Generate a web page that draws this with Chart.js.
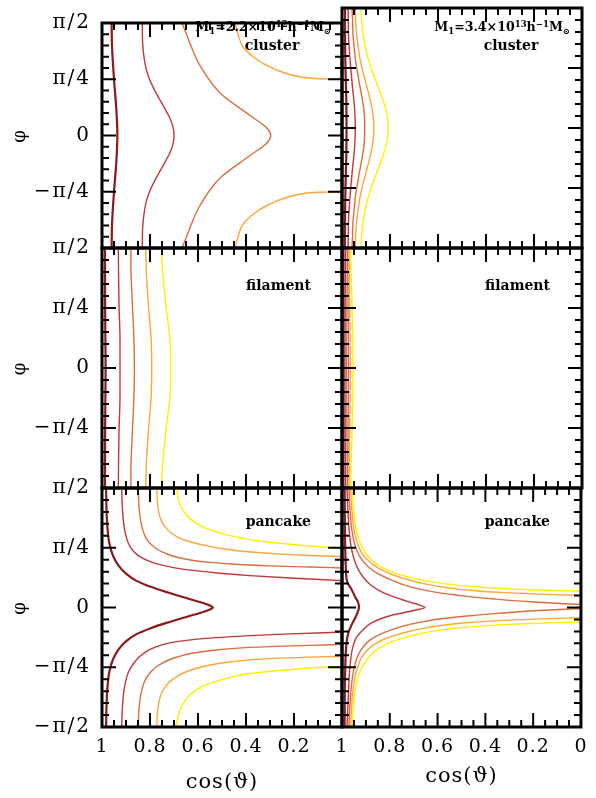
<!DOCTYPE html>
<html><head><meta charset="utf-8">
<script src="https://cdn.jsdelivr.net/npm/chart.js@4.4.1/dist/chart.umd.min.js"></script>
<style>
html,body{margin:0;padding:0;background:#fff;}
#wrap{position:relative;width:596px;height:798px;overflow:hidden;background:#fff;}
#wrap canvas{position:absolute;left:0;top:0;}
.note{position:absolute;font-family:"DejaVu Serif",serif;font-weight:bold;color:#000;white-space:nowrap;line-height:1;font-size:14px;}
.note sub,.note sup{font-size:68%;line-height:0;position:relative;vertical-align:baseline;}
.note sup{top:-0.5em;}
.note sub{top:0.3em;}
</style></head><body>
<div id="wrap">
<canvas id="c0" width="596" height="798"></canvas>
<canvas id="c1" width="596" height="798"></canvas>
<canvas id="c2" width="596" height="798"></canvas>
<canvas id="c3" width="596" height="798"></canvas>
<canvas id="c4" width="596" height="798"></canvas>
<canvas id="c5" width="596" height="798"></canvas>
<div class="note" style="right:265px;top:21px;font-size:12.6px;">M<sub>1</sub>=2.2×10<sup>12</sup>h<sup>−1</sup>M<sub>⊙</sub></div>
<div class="note" style="left:272px;top:38px;transform:translateX(-50%);">cluster</div>
<div class="note" style="right:26px;top:21px;font-size:12.6px;">M<sub>1</sub>=3.4×10<sup>13</sup>h<sup>−1</sup>M<sub>⊙</sub></div>
<div class="note" style="left:511px;top:38px;transform:translateX(-50%);">cluster</div>
<div class="note" style="right:285px;top:278px;">filament</div>
<div class="note" style="right:46px;top:278px;">filament</div>
<div class="note" style="right:285px;top:514px;">pancake</div>
<div class="note" style="right:46px;top:514px;">pancake</div>
</div>
<script>
// ---- axis ticks ----
const cosTicks = [1, 0.8, 0.6, 0.4, 0.2, 0];
const cosTickLabels = ['1', '0.8', '0.6', '0.4', '0.2', '0'];
const phiTicks = [-90, -45, 0, 45, 90];               // φ in degrees
const phiTickLabels = ['−π/2', '−π/4', '0', 'π/4', 'π/2'];

// ---- contour curves: [cos(theta), phi in degrees] ----
const clusterLow = [
  [[0.960,90],[0.958,70],[0.950,45],[0.940,20],[0.936,0],[0.940,-20],[0.950,-45],[0.958,-70],[0.960,-90]],
  [[0.832,90],[0.831,75],[0.823,60],[0.815,52.5],[0.802,45],[0.784,37.5],[0.763,30],[0.741,22.5],[0.720,15],[0.705,7.5],[0.700,0],
   [0.705,-7.5],[0.720,-15],[0.741,-22.5],[0.763,-30],[0.784,-37.5],[0.802,-45],[0.815,-52.5],[0.823,-60],[0.831,-75],[0.832,-90]],
  [[0.667,90],[0.650,82],[0.633,73.5],[0.592,56],[0.508,34],[0.383,16],[0.313,6],[0.297,0],[0.313,-6],[0.383,-16],[0.508,-34],[0.592,-56],[0.633,-73.5],[0.650,-82],[0.667,-90]],
  [[0.446,90],[0.433,81],[0.413,71],[0.363,62],[0.313,56],[0.238,50],[0.175,47],[0.092,45.4],[0,45]],
  [[0,-45],[0.092,-45.4],[0.175,-47],[0.238,-50],[0.313,-56],[0.363,-62],[0.413,-71],[0.433,-81],[0.446,-90]]
];
const clusterLowLevels = [0, 1, 2, 3, 3];

const clusterHigh = [
  [[0.988,90],[0.987,60],[0.985,40],[0.982,20],[0.981,0],[0.982,-20],[0.985,-40],[0.987,-60],[0.988,-90]],
  [[0.975,90],[0.974,80],[0.973,70],[0.970,60],[0.966,50],[0.961,40],[0.956,30],[0.950,20],[0.946,10],[0.945,0],
   [0.946,-10],[0.950,-20],[0.956,-30],[0.961,-40],[0.966,-50],[0.970,-60],[0.973,-70],[0.974,-80],[0.975,-90]],
  [[0.958,90],[0.956,80],[0.954,70],[0.949,60],[0.943,50],[0.934,40],[0.924,30],[0.914,20],[0.907,10],[0.905,0],
   [0.907,-10],[0.914,-20],[0.924,-30],[0.934,-40],[0.943,-50],[0.949,-60],[0.954,-70],[0.956,-80],[0.958,-90]],
  [[0.945,90],[0.943,80],[0.939,70],[0.932,60],[0.923,50],[0.910,40],[0.895,30],[0.881,20],[0.871,10],[0.867,0],
   [0.871,-10],[0.881,-20],[0.895,-30],[0.910,-40],[0.923,-50],[0.932,-60],[0.939,-70],[0.943,-80],[0.945,-90]],
  [[0.921,90],[0.918,80],[0.912,70],[0.902,60],[0.888,50],[0.869,40],[0.848,30],[0.828,20],[0.813,10],[0.808,0],
   [0.813,-10],[0.828,-20],[0.848,-30],[0.869,-40],[0.888,-50],[0.902,-60],[0.912,-70],[0.918,-80],[0.921,-90]]
];
const clusterHighLevels = [0, 1, 2, 3, 4];

const filamentLow = [
  [[0.9875,90],[0.987,45],[0.985,0],[0.987,-45],[0.9875,-90]],
  [[0.932,90],[0.931,71],[0.929,46],[0.925,21],[0.925,0],[0.925,-21],[0.929,-46],[0.931,-71],[0.932,-90]],
  [[0.880,90],[0.879,71],[0.873,46],[0.867,21],[0.865,0],[0.867,-21],[0.873,-46],[0.879,-71],[0.880,-90]],
  [[0.818,90],[0.815,71],[0.806,46],[0.795,21],[0.793,0],[0.795,-21],[0.806,-46],[0.815,-71],[0.818,-90]],
  [[0.751,90],[0.747,71],[0.733,46],[0.717,21],[0.714,0],[0.717,-21],[0.733,-46],[0.747,-71],[0.751,-90]]
];
const filamentLowLevels = [0, 1, 2, 3, 4];

const filamentHigh = [
  [[0.994,90],[0.993,0],[0.994,-90]],
  [[0.985,90],[0.984,46],[0.983,0],[0.984,-46],[0.985,-90]],
  [[0.977,90],[0.975,46],[0.973,0],[0.975,-46],[0.977,-90]],
  [[0.971,90],[0.968,46],[0.965,0],[0.968,-46],[0.971,-90]],
  [[0.964,90],[0.962,71],[0.958,46],[0.955,21],[0.954,0],[0.955,-21],[0.958,-46],[0.962,-71],[0.964,-90]]
];
const filamentHighLevels = [0, 1, 2, 3, 4];

const pancakeLow = [
  [[0.983,90],[0.981,72.75],[0.977,59.25],[0.969,48],[0.954,39],[0.931,31.5],[0.900,25.5],[0.858,20.25],[0.800,15.75],[0.725,11.25],[0.642,6.75],[0.575,3.15],[0.546,1.1],[0.5375,0],
   [0.546,-1.1],[0.575,-3.15],[0.642,-6.75],[0.725,-11.25],[0.800,-15.75],[0.858,-20.25],[0.900,-25.5],[0.931,-31.5],[0.954,-39],[0.969,-48],[0.977,-59.25],[0.981,-72.75],[0.983,-90]],
  [[0.918,90],[0.9154,76.5],[0.911,65.25],[0.903,56.25],[0.891,48.75],[0.871,42.75],[0.842,38.25],[0.804,34.9],[0.758,32.25],[0.696,29.85],[0.6125,27.75],[0.508,25.8],[0.383,24],[0.217,22.2],[0,20.25]],
  [[0,-18.5],[0.217,-19.9],[0.383,-21.2],[0.508,-22.5],[0.6125,-24],[0.696,-25.9],[0.758,-28.5],[0.804,-31.9],[0.842,-36.75],[0.871,-42.75],[0.891,-49.1],[0.903,-57],[0.911,-66],[0.9154,-77.25],[0.918,-90]],
  [[0.849,90],[0.846,76.5],[0.840,66.75],[0.831,58.9],[0.817,52.5],[0.796,47.6],[0.767,43.5],[0.729,40.3],[0.683,37.65],[0.625,35.6],[0.55,34],[0.446,32.55],[0.30,31.35],[0.133,30.45],[0,29.8]],
  [[0,-27.75],[0.133,-28.5],[0.30,-29.5],[0.446,-30.75],[0.55,-32.6],[0.625,-34.5],[0.683,-37.1],[0.729,-40.1],[0.767,-43.9],[0.796,-48.4],[0.817,-53.6],[0.831,-60],[0.840,-67.5],[0.846,-77.25],[0.849,-90]],
  [[0.772,90],[0.769,79.5],[0.764,72],[0.754,66],[0.7375,60.75],[0.7125,56.25],[0.679,52.5],[0.633,49.5],[0.575,46.9],[0.496,44.25],[0.392,42],[0.258,40.2],[0.133,39.2],[0,38.25]],
  [[0,-36.75],[0.133,-37.35],[0.258,-38.1],[0.392,-39.6],[0.496,-41.6],[0.575,-44.25],[0.633,-47.25],[0.679,-51],[0.7125,-55.1],[0.7375,-60],[0.754,-65.6],[0.764,-72],[0.769,-79.5],[0.772,-90]],
  [[0.689,90],[0.683,81.75],[0.673,76.5],[0.658,72],[0.6375,67.5],[0.605,63.4],[0.571,60],[0.529,57.4],[0.494,55.5],[0.425,52.5],[0.355,50.25],[0.217,47.6],[0.064,45.4],[0,45]],
  [[0,-44.8],[0.064,-45],[0.217,-46.9],[0.355,-49.1],[0.425,-51],[0.494,-54],[0.529,-55.9],[0.571,-58.5],[0.605,-61.9],[0.6375,-66.4],[0.658,-71.25],[0.673,-76.1],[0.683,-81.75],[0.689,-90]]
];
const pancakeLowLevels = [0, 1, 1, 2, 2, 3, 3, 4, 4];

const pancakeHigh = [
  [[0.989,90],[0.987,50],[0.984,30],[0.978,19],[0.961,14],[0.945,8],[0.933,4],[0.929,0],[0.940,-6],[0.961,-13.5],[0.975,-20],[0.982,-28.5],[0.987,-50],[0.989,-90]],
  [[0.979,90],[0.975,72],[0.970,58],[0.963,47],[0.952,38],[0.936,30],[0.912,23],[0.880,17],[0.836,12],[0.780,7.8],[0.720,4.2],[0.675,1.8],[0.653,0],
   [0.675,-1.3],[0.720,-3],[0.780,-5.3],[0.836,-8.3],[0.880,-12],[0.912,-16.7],[0.939,-22.3],[0.955,-30],[0.967,-45],[0.972,-60],[0.979,-90]],
  [[0.971,90],[0.9675,76.5],[0.963,65.25],[0.957,56.25],[0.9475,48],[0.933,40.9],[0.9125,34.9],[0.883,29.6],[0.846,25.1],[0.800,21.2],[0.742,17.0],[0.675,13.8],[0.592,11.0],[0.4875,8.6],[0.3625,6.4],[0.196,4.1],[0,2.25]],
  [[0,-0.75],[0.196,-2.5],[0.3625,-4.6],[0.4875,-6.6],[0.592,-8.7],[0.675,-11.2],[0.742,-13.8],[0.800,-17.2],[0.846,-20.6],[0.883,-24.6],[0.9125,-29.9],[0.933,-36],[0.9475,-44],[0.957,-53.5],[0.963,-63.5],[0.9675,-75],[0.971,-90]],
  [[0.964,90],[0.960,76.5],[0.955,65.25],[0.9475,56.25],[0.935,48],[0.919,41.6],[0.896,36.4],[0.867,31.9],[0.829,27.7],[0.783,24.3],[0.725,21.0],[0.654,17.8],[0.571,15.2],[0.467,13.0],[0.342,11.4],[0.175,10.1],[0,9.0]],
  [[0,-7.7],[0.175,-8.6],[0.342,-9.9],[0.467,-11.3],[0.571,-13.2],[0.654,-15.5],[0.725,-18.3],[0.783,-21.2],[0.829,-24.3],[0.867,-28],[0.896,-32.5],[0.919,-38],[0.935,-45],[0.9475,-54],[0.955,-63.5],[0.960,-75],[0.964,-90]],
  [[0.957,90],[0.953,76.5],[0.947,65.25],[0.9375,56.25],[0.923,48],[0.902,41.25],[0.875,35.6],[0.842,31.1],[0.800,27.4],[0.750,24.4],[0.692,21.75],[0.617,19.1],[0.529,17.0],[0.425,15.4],[0.217,13.35],[0,12.2]],
  [[0,-11.0],[0.217,-12.0],[0.425,-14],[0.529,-15.6],[0.617,-17.8],[0.692,-20.5],[0.750,-23.3],[0.800,-26.4],[0.842,-30.2],[0.875,-34.9],[0.902,-40.8],[0.923,-47.5],[0.9375,-55.5],[0.947,-64.5],[0.953,-75.5],[0.957,-90]]
];
const pancakeHighLevels = [0, 1, 2, 2, 3, 3, 4, 4];

// ---- styles & layout ----
const levelColors = ['#8b1a1a', '#c4363a', '#db6e3c', '#ffa53a', '#fff000'];
const levelWidths = [2.2, 1.4, 1.4, 1.4, 1.4];
const colLeft = [102, 342], colRight = [342, 582];
const rowTop = [8, 248, 488], rowBottom = [248, 488, 727];
const W = 596, H = 798;
const FONT = '"DejaVu Serif", serif';

const spacing = {
  id: 'spacing',
  beforeDraw(chart) { chart.ctx.letterSpacing = '2px'; },
  beforeDatasetsDraw(chart) { chart.ctx.letterSpacing = '0px'; },
  afterDatasetsDraw(chart) { chart.ctx.letterSpacing = '1px'; },
  afterDraw(chart) { chart.ctx.letterSpacing = '0px'; }
};

const frameTicks = {
  id: 'frameTicks',
  afterDraw(chart) {
    const {ctx, chartArea: a, scales: {x, y}} = chart;
    ctx.save();
    ctx.strokeStyle = '#000';
    ctx.lineWidth = 2;
    ctx.beginPath();
    for (let i = 1; i < 20; i++) {
      const px = x.getPixelForValue(i * 0.05);
      const len = (i % 4 === 0) ? 14 : 7;
      ctx.moveTo(px, a.bottom); ctx.lineTo(px, a.bottom - len);
      ctx.moveTo(px, a.top); ctx.lineTo(px, a.top + len);
    }
    for (let i = 1; i < 20; i++) {
      const py = y.getPixelForValue(-90 + i * 9);
      const len = (i % 5 === 0) ? 14 : 7;
      ctx.moveTo(a.left, py); ctx.lineTo(a.left + len, py);
      ctx.moveTo(a.right, py); ctx.lineTo(a.right - len, py);
    }
    ctx.stroke();
    ctx.lineWidth = 3;
    ctx.strokeRect(a.left, a.top, a.right - a.left, a.bottom - a.top);
    ctx.restore();
  }
};

function makePanel(id, curves, levels, col, row) {
  const left = col === 0, bottom = row === 2;
  const datasets = curves.map((c, i) => ({
    data: c.map(p => ({x: p[0], y: p[1]})),
    indexAxis: 'y',
    cubicInterpolationMode: 'monotone',
    pointRadius: 0,
    pointHoverRadius: 0,
    borderColor: levelColors[levels[i]],
    borderWidth: levelWidths[levels[i]],
    fill: false
  }));
  new Chart(document.getElementById(id), {
    type: 'line',
    data: {datasets},
    plugins: [spacing, frameTicks],
    options: {
      responsive: false,
      animation: false,
      devicePixelRatio: 1,
      events: [],
      layout: {
        autoPadding: false,
        padding: {
          left: left ? 0 : colLeft[1],
          right: W - colRight[col],
          top: rowTop[row],
          bottom: bottom ? 0 : H - rowBottom[row]
        }
      },
      plugins: {legend: {display: false}, tooltip: {enabled: false}},
      scales: {
        x: {
          type: 'linear', min: 0, max: 1, reverse: true,
          display: bottom,
          afterFit: s => { s.height = bottom ? H - rowBottom[2] : 0; },
          afterBuildTicks: s => { s.ticks = cosTicks.map(v => ({value: v})); },
          grid: {display: false, drawTicks: false, z: 1},
          border: {display: false},
          ticks: {
            display: bottom, autoSkip: false, maxRotation: 0, minRotation: 0, z: 1,
            padding: 9, color: '#000', font: {family: FONT, size: 19},
            callback: v => (left && v === 0) ? '' : cosTickLabels[cosTicks.indexOf(v)]
          },
          title: {display: bottom, text: 'cos(ϑ)', color: '#000', font: {family: FONT, size: 21},
                  padding: {top: 0, bottom: left ? 3 : 9}}
        },
        y: {
          type: 'linear', min: -90, max: 90,
          display: left,
          afterFit: s => { s.width = left ? colLeft[0] : 0; },
          afterBuildTicks: s => { s.ticks = phiTicks.map(v => ({value: v})); },
          grid: {display: false, drawTicks: false},
          border: {display: false},
          ticks: {
            display: left, autoSkip: false, padding: 11, color: '#000', font: {family: FONT, size: 20},
            callback: v => (!bottom && v === -90) ? '' : phiTickLabels[phiTicks.indexOf(v)]
          },
          title: {display: left, text: 'φ', color: '#000', font: {family: FONT, size: 18},
                  padding: {top: 10, bottom: 0}}
        }
      }
    }
  });
}

makePanel('c0', clusterLow, clusterLowLevels, 0, 0);
makePanel('c1', clusterHigh, clusterHighLevels, 1, 0);
makePanel('c2', filamentLow, filamentLowLevels, 0, 1);
makePanel('c3', filamentHigh, filamentHighLevels, 1, 1);
makePanel('c4', pancakeLow, pancakeLowLevels, 0, 2);
makePanel('c5', pancakeHigh, pancakeHighLevels, 1, 2);
</script>
</body></html>
